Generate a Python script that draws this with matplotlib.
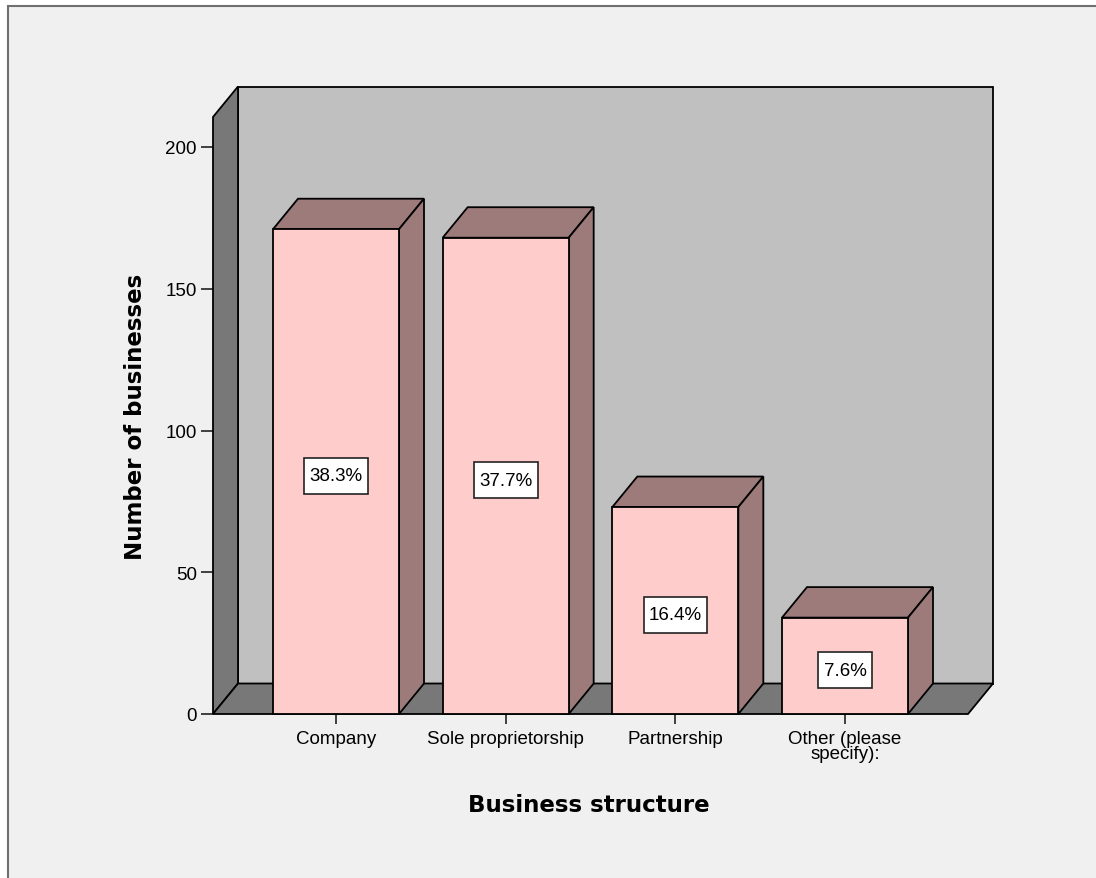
import matplotlib.pyplot as plt
from matplotlib.patches import Polygon, Rectangle
from matplotlib.path import Path

# business structure counts
categories = ["Company", "Sole proprietorship", "Partnership", "Other (please\nspecify):"]
counts = [171, 168, 73, 34]
yticks = [0, 50, 100, 150, 200]

total = sum(counts)
pct_labels = ["%.1f%%" % (100.0 * c / total) for c in counts]

W, H = 1096, 879
fig = plt.figure(figsize=(W / 100, H / 100), dpi=100, facecolor="white")

# panel background with border on top/left
fig.patches.append(Rectangle((8 / W, -0.05), 1.1, 1 - 7 / H + 0.05, transform=fig.transFigure,
                             facecolor="#f0f0f0", edgecolor="#707070", lw=1.5, zorder=-5))

px_x = 169.66   # pixels per category
px_y = 2.835    # pixels per count
ax = fig.add_axes([213 / W, 164 / H, 755 / W, 597 / H])
x0, x1 = -0.725, 3.725
ytop = 597 / px_y
ax.set_xlim(x0, x1)
ax.set_ylim(0, ytop)
ax.patch.set_alpha(0)
for s in ax.spines.values():
    s.set_visible(False)

dx = 25 / px_x
dy = 30.5 / px_y
lw = 1.3
ec = "black"


def label_box(x0, y0, width, height, mutation_size):
    # square box, more padding top/bottom than left/right
    px, py = 0.28 * mutation_size, 0.5 * mutation_size
    l, b, r, t = x0 - px, y0 - py, x0 + width + px, y0 + height + py
    return Path([(l, b), (r, b), (r, t), (l, t), (l, b)], closed=True)


# back wall, side wall and floor
ax.add_patch(Polygon([(x0 + dx, dy), (x1 + dx, dy), (x1 + dx, ytop + dy), (x0 + dx, ytop + dy)],
                     closed=True, facecolor="#c0c0c0", edgecolor=ec, lw=lw, clip_on=False, zorder=1))
ax.add_patch(Polygon([(x0, 0), (x0 + dx, dy), (x0 + dx, ytop + dy), (x0, ytop)],
                     closed=True, facecolor="#787878", edgecolor=ec, lw=lw, clip_on=False, zorder=2))
ax.add_patch(Polygon([(x0, 0), (x1, 0), (x1 + dx, dy), (x0 + dx, dy)],
                     closed=True, facecolor="#787878", edgecolor=ec, lw=lw, clip_on=False, zorder=2))

# 3D bars
bw = 126 / px_x
for i, v in enumerate(counts):
    l, r = i - bw / 2, i + bw / 2
    z = 3 + i
    ax.add_patch(Polygon([(l, v), (r, v), (r + dx, v + dy), (l + dx, v + dy)],
                         closed=True, facecolor="#9e7b7b", edgecolor=ec, lw=lw, clip_on=False, zorder=z))
    ax.add_patch(Polygon([(r, 0), (r + dx, dy), (r + dx, v + dy), (r, v)],
                         closed=True, facecolor="#9e7b7b", edgecolor=ec, lw=lw, clip_on=False, zorder=z))
    ax.add_patch(Rectangle((l, 0), bw, v, facecolor="#ffcccc", edgecolor=ec, lw=lw,
                           clip_on=False, zorder=z + 0.1))
    ax.text(i, v / 2 - 1.5, pct_labels[i], ha="center", va="center", fontsize=13.5,
            family="Liberation Sans", zorder=20,
            bbox=dict(boxstyle=label_box, facecolor="white", edgecolor="#222222", lw=1.2))

ax.set_xticks(range(len(categories)))
ax.set_xticklabels(categories, fontsize=13.5, family="Liberation Sans", linespacing=0.85)
ax.set_yticks(yticks)
ax.set_yticklabels([str(t) for t in yticks], fontsize=13.5, family="Liberation Sans")
ax.tick_params(axis="x", length=7.5, width=1.2, pad=4, color="#222222")
ax.tick_params(axis="y", length=8.6, width=1.2, pad=3, color="#222222")

fig.text(136 / W, 1 - 417 / H, "Number of businesses", rotation=90, ha="center", va="center",
         fontsize=16.5, fontweight="bold", family="DejaVu Sans")
fig.text(589 / W, 1 - 806 / H, "Business structure", ha="center", va="center",
         fontsize=16.5, fontweight="bold", family="DejaVu Sans")

fig.savefig("out.png", dpi=100, facecolor=fig.get_facecolor())
